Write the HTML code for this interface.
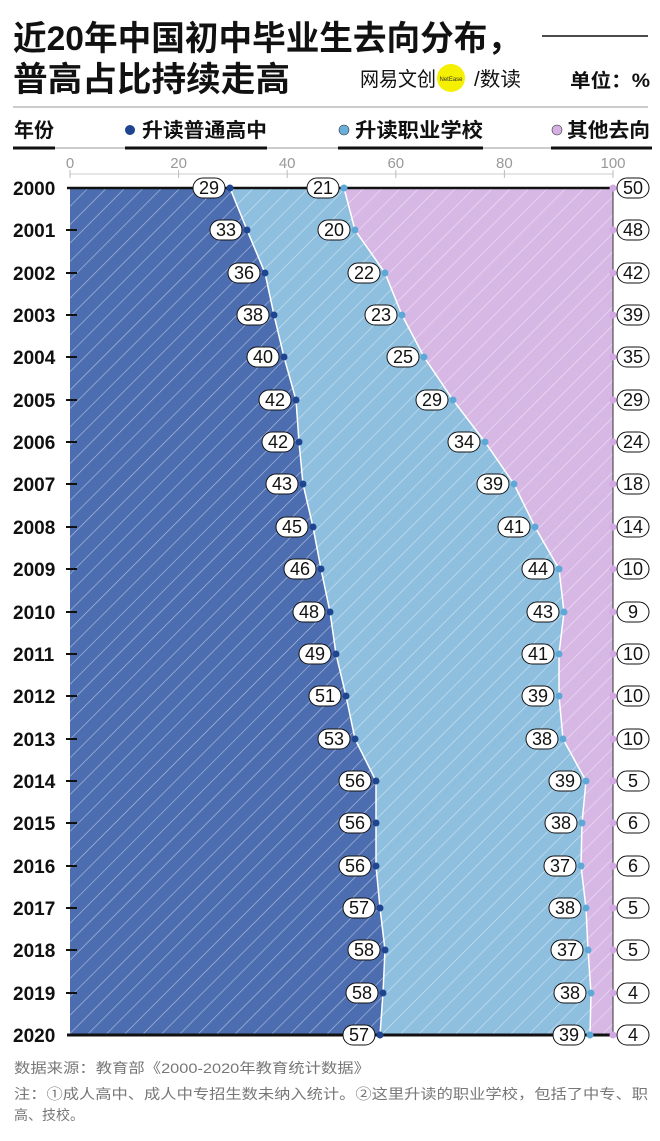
<!DOCTYPE html>
<html><head><meta charset="utf-8"><style>
html,body{margin:0;padding:0;background:#fff}
svg{display:block}
text{font-family:"Liberation Sans","Noto Sans CJK SC",sans-serif}
.p{fill:#fff;stroke:#111;stroke-width:1}
.t{font-size:18px;fill:#111;text-anchor:middle}
.y{font-size:19px;font-weight:bold;fill:#111}
.ax{font-size:15px;fill:#999;text-anchor:middle}
</style></head><body>
<svg width="660" height="1141" viewBox="0 0 660 1141" xmlns="http://www.w3.org/2000/svg">
<defs>
<pattern id="h" width="13" height="13" patternUnits="userSpaceOnUse" patternTransform="rotate(45)">
<line x1="0" y1="0" x2="0" y2="13" stroke="#fff" stroke-opacity="0.55" stroke-width="1.3"/>
</pattern>
</defs>
<text x="13" y="50" font-size="34" font-weight="bold" fill="#111" textLength="508" lengthAdjust="spacingAndGlyphs">近20年中国初中毕业生去向分布，</text>
<text x="13" y="91" font-size="34" font-weight="bold" fill="#111" textLength="277" lengthAdjust="spacingAndGlyphs">普高占比持续走高</text>
<line x1="542" y1="36" x2="648" y2="36" stroke="#111" stroke-width="1.5"/>
<text x="360" y="86" font-size="20" fill="#111" textLength="76" lengthAdjust="spacingAndGlyphs">网易文创</text>
<circle cx="451" cy="78" r="14" fill="#f5ef00"/>
<text x="451" y="81" font-size="6" fill="#333" text-anchor="middle">NetEase</text>
<text x="474" y="86" font-size="20" fill="#111" textLength="47" lengthAdjust="spacingAndGlyphs">/数读</text>
<text x="570" y="87" font-size="19" font-weight="bold" fill="#111" textLength="80" lengthAdjust="spacingAndGlyphs">单位：%</text>
<line x1="13" y1="107" x2="648" y2="107" stroke="#999" stroke-width="1"/>
<text x="14" y="137" font-size="20" font-weight="bold" fill="#111">年份</text>
<circle cx="130" cy="130" r="5" fill="#1f4590"/>
<text x="142" y="137" font-size="20" font-weight="bold" fill="#111" textLength="125" lengthAdjust="spacingAndGlyphs">升读普通高中</text>
<circle cx="344" cy="130" r="5" fill="#6aaedc" stroke="#333" stroke-width="0.6"/>
<text x="355" y="137" font-size="20" font-weight="bold" fill="#111" textLength="128" lengthAdjust="spacingAndGlyphs">升读职业学校</text>
<circle cx="557" cy="130" r="5" fill="#d6b0e4" stroke="#333" stroke-width="0.6"/>
<text x="567" y="137" font-size="20" font-weight="bold" fill="#111" textLength="83" lengthAdjust="spacingAndGlyphs">其他去向</text>
<line x1="13" y1="148" x2="650" y2="148" stroke="#999" stroke-width="1"/>
<g stroke="#111" stroke-width="3">
<line x1="13" y1="148" x2="55" y2="148"/><line x1="125" y1="148" x2="267" y2="148"/>
<line x1="338" y1="148" x2="483" y2="148"/><line x1="551" y1="148" x2="652" y2="148"/>
</g>
<g class="ax"><text x="70" y="168">0</text><text x="178.6" y="168">20</text><text x="287.2" y="168">40</text><text x="395.8" y="168">60</text><text x="504.4" y="168">80</text><text x="613" y="168">100</text></g>
<line x1="70" y1="174" x2="613" y2="174" stroke="#ccc" stroke-width="1"/>
<g stroke="#bbb" stroke-width="1"><line x1="70" y1="170" x2="70" y2="178"/><line x1="178.6" y1="170" x2="178.6" y2="178"/><line x1="287.2" y1="170" x2="287.2" y2="178"/><line x1="395.8" y1="170" x2="395.8" y2="178"/><line x1="504.4" y1="170" x2="504.4" y2="178"/><line x1="613" y1="170" x2="613" y2="178"/></g>

<polygon fill="#d7b8e5" points="344,188 355,230 385,273 402,315 424,357 453,400 485,442 514,484 535,527 559,569 564,612 559,654 559,696 563,739 586,781 582,823 581,866 586,908 588,950 591,993 590,1035 613,1035 613,188"/>
<polygon fill="#8ebfdf" points="230,188 247,230 265,273 274,315 284,357 296,400 299,442 303,484 313,527 321,569 330,612 336,654 346,696 355,739 376,781 376,823 376,866 380,908 385,950 383,993 380,1035 590,1035 591,993 588,950 586,908 581,866 582,823 586,781 563,739 559,696 559,654 564,612 559,569 535,527 514,484 485,442 453,400 424,357 402,315 385,273 355,230 344,188"/>
<polygon fill="#4c6db0" points="70,188 230,188 247,230 265,273 274,315 284,357 296,400 299,442 303,484 313,527 321,569 330,612 336,654 346,696 355,739 376,781 376,823 376,866 380,908 385,950 383,993 380,1035 70,1035"/>
<rect x="70" y="188" width="543" height="847" fill="url(#h)"/>
<polyline fill="none" stroke="#fff" stroke-width="1.5" points="230,188 247,230 265,273 274,315 284,357 296,400 299,442 303,484 313,527 321,569 330,612 336,654 346,696 355,739 376,781 376,823 376,866 380,908 385,950 383,993 380,1035"/>
<polyline fill="none" stroke="#fff" stroke-width="1.5" points="344,188 355,230 385,273 402,315 424,357 453,400 485,442 514,484 535,527 559,569 564,612 559,654 559,696 563,739 586,781 582,823 581,866 586,908 588,950 591,993 590,1035"/>
<line x1="613" y1="188" x2="613" y2="1035" stroke="#333" stroke-width="1"/>
<line x1="67" y1="188" x2="613" y2="188" stroke="#111" stroke-width="2.5"/>
<line x1="67" y1="1035" x2="613" y2="1035" stroke="#111" stroke-width="3"/>

<g class="y">
<text x="13" y="195">2000</text><text x="13" y="237">2001</text><text x="13" y="280">2002</text><text x="13" y="322">2003</text><text x="13" y="364">2004</text><text x="13" y="407">2005</text><text x="13" y="449">2006</text><text x="13" y="491">2007</text><text x="13" y="534">2008</text><text x="13" y="576">2009</text><text x="13" y="619">2010</text><text x="13" y="661">2011</text><text x="13" y="703">2012</text><text x="13" y="746">2013</text><text x="13" y="788">2014</text><text x="13" y="830">2015</text><text x="13" y="873">2016</text><text x="13" y="915">2017</text><text x="13" y="957">2018</text><text x="13" y="1000">2019</text><text x="13" y="1042">2020</text>
</g>
<g stroke="#111" stroke-width="2">
<line x1="66" y1="230" x2="77" y2="230"/><line x1="66" y1="273" x2="77" y2="273"/><line x1="66" y1="315" x2="77" y2="315"/><line x1="66" y1="357" x2="77" y2="357"/><line x1="66" y1="400" x2="77" y2="400"/><line x1="66" y1="442" x2="77" y2="442"/><line x1="66" y1="484" x2="77" y2="484"/><line x1="66" y1="527" x2="77" y2="527"/><line x1="66" y1="569" x2="77" y2="569"/><line x1="66" y1="612" x2="77" y2="612"/><line x1="66" y1="654" x2="77" y2="654"/><line x1="66" y1="696" x2="77" y2="696"/><line x1="66" y1="739" x2="77" y2="739"/><line x1="66" y1="781" x2="77" y2="781"/><line x1="66" y1="823" x2="77" y2="823"/><line x1="66" y1="866" x2="77" y2="866"/><line x1="66" y1="908" x2="77" y2="908"/><line x1="66" y1="950" x2="77" y2="950"/><line x1="66" y1="993" x2="77" y2="993"/>
</g>

<g>
<rect class="p" x="193" y="178" width="32" height="20" rx="10"/><text class="t" x="209" y="194">29</text>
<rect class="p" x="210" y="220" width="32" height="20" rx="10"/><text class="t" x="226" y="236">33</text>
<rect class="p" x="228" y="263" width="32" height="20" rx="10"/><text class="t" x="244" y="279">36</text>
<rect class="p" x="237" y="305" width="32" height="20" rx="10"/><text class="t" x="253" y="321">38</text>
<rect class="p" x="247" y="347" width="32" height="20" rx="10"/><text class="t" x="263" y="363">40</text>
<rect class="p" x="259" y="390" width="32" height="20" rx="10"/><text class="t" x="275" y="406">42</text>
<rect class="p" x="262" y="432" width="32" height="20" rx="10"/><text class="t" x="278" y="448">42</text>
<rect class="p" x="266" y="474" width="32" height="20" rx="10"/><text class="t" x="282" y="490">43</text>
<rect class="p" x="276" y="517" width="32" height="20" rx="10"/><text class="t" x="292" y="533">45</text>
<rect class="p" x="284" y="559" width="32" height="20" rx="10"/><text class="t" x="300" y="575">46</text>
<rect class="p" x="293" y="602" width="32" height="20" rx="10"/><text class="t" x="309" y="618">48</text>
<rect class="p" x="299" y="644" width="32" height="20" rx="10"/><text class="t" x="315" y="660">49</text>
<rect class="p" x="309" y="686" width="32" height="20" rx="10"/><text class="t" x="325" y="702">51</text>
<rect class="p" x="318" y="729" width="32" height="20" rx="10"/><text class="t" x="334" y="745">53</text>
<rect class="p" x="339" y="771" width="32" height="20" rx="10"/><text class="t" x="355" y="787">56</text>
<rect class="p" x="339" y="813" width="32" height="20" rx="10"/><text class="t" x="355" y="829">56</text>
<rect class="p" x="339" y="856" width="32" height="20" rx="10"/><text class="t" x="355" y="872">56</text>
<rect class="p" x="343" y="898" width="32" height="20" rx="10"/><text class="t" x="359" y="914">57</text>
<rect class="p" x="348" y="940" width="32" height="20" rx="10"/><text class="t" x="364" y="956">58</text>
<rect class="p" x="346" y="983" width="32" height="20" rx="10"/><text class="t" x="362" y="999">58</text>
<rect class="p" x="343" y="1025" width="32" height="20" rx="10"/><text class="t" x="359" y="1041">57</text>
</g>
<g>
<rect class="p" x="307" y="178" width="32" height="20" rx="10"/><text class="t" x="323" y="194">21</text>
<rect class="p" x="318" y="220" width="32" height="20" rx="10"/><text class="t" x="334" y="236">20</text>
<rect class="p" x="348" y="263" width="32" height="20" rx="10"/><text class="t" x="364" y="279">22</text>
<rect class="p" x="365" y="305" width="32" height="20" rx="10"/><text class="t" x="381" y="321">23</text>
<rect class="p" x="387" y="347" width="32" height="20" rx="10"/><text class="t" x="403" y="363">25</text>
<rect class="p" x="416" y="390" width="32" height="20" rx="10"/><text class="t" x="432" y="406">29</text>
<rect class="p" x="448" y="432" width="32" height="20" rx="10"/><text class="t" x="464" y="448">34</text>
<rect class="p" x="477" y="474" width="32" height="20" rx="10"/><text class="t" x="493" y="490">39</text>
<rect class="p" x="498" y="517" width="32" height="20" rx="10"/><text class="t" x="514" y="533">41</text>
<rect class="p" x="522" y="559" width="32" height="20" rx="10"/><text class="t" x="538" y="575">44</text>
<rect class="p" x="527" y="602" width="32" height="20" rx="10"/><text class="t" x="543" y="618">43</text>
<rect class="p" x="522" y="644" width="32" height="20" rx="10"/><text class="t" x="538" y="660">41</text>
<rect class="p" x="522" y="686" width="32" height="20" rx="10"/><text class="t" x="538" y="702">39</text>
<rect class="p" x="526" y="729" width="32" height="20" rx="10"/><text class="t" x="542" y="745">38</text>
<rect class="p" x="549" y="771" width="32" height="20" rx="10"/><text class="t" x="565" y="787">39</text>
<rect class="p" x="545" y="813" width="32" height="20" rx="10"/><text class="t" x="561" y="829">38</text>
<rect class="p" x="544" y="856" width="32" height="20" rx="10"/><text class="t" x="560" y="872">37</text>
<rect class="p" x="549" y="898" width="32" height="20" rx="10"/><text class="t" x="565" y="914">38</text>
<rect class="p" x="551" y="940" width="32" height="20" rx="10"/><text class="t" x="567" y="956">37</text>
<rect class="p" x="554" y="983" width="32" height="20" rx="10"/><text class="t" x="570" y="999">38</text>
<rect class="p" x="553" y="1025" width="32" height="20" rx="10"/><text class="t" x="569" y="1041">39</text>
</g>
<g>
<rect class="p" x="617" y="178" width="32" height="20" rx="10"/><text class="t" x="633" y="194">50</text>
<rect class="p" x="617" y="220" width="32" height="20" rx="10"/><text class="t" x="633" y="236">48</text>
<rect class="p" x="617" y="263" width="32" height="20" rx="10"/><text class="t" x="633" y="279">42</text>
<rect class="p" x="617" y="305" width="32" height="20" rx="10"/><text class="t" x="633" y="321">39</text>
<rect class="p" x="617" y="347" width="32" height="20" rx="10"/><text class="t" x="633" y="363">35</text>
<rect class="p" x="617" y="390" width="32" height="20" rx="10"/><text class="t" x="633" y="406">29</text>
<rect class="p" x="617" y="432" width="32" height="20" rx="10"/><text class="t" x="633" y="448">24</text>
<rect class="p" x="617" y="474" width="32" height="20" rx="10"/><text class="t" x="633" y="490">18</text>
<rect class="p" x="617" y="517" width="32" height="20" rx="10"/><text class="t" x="633" y="533">14</text>
<rect class="p" x="617" y="559" width="32" height="20" rx="10"/><text class="t" x="633" y="575">10</text>
<rect class="p" x="617" y="602" width="32" height="20" rx="10"/><text class="t" x="633" y="618">9</text>
<rect class="p" x="617" y="644" width="32" height="20" rx="10"/><text class="t" x="633" y="660">10</text>
<rect class="p" x="617" y="686" width="32" height="20" rx="10"/><text class="t" x="633" y="702">10</text>
<rect class="p" x="617" y="729" width="32" height="20" rx="10"/><text class="t" x="633" y="745">10</text>
<rect class="p" x="617" y="771" width="32" height="20" rx="10"/><text class="t" x="633" y="787">5</text>
<rect class="p" x="617" y="813" width="32" height="20" rx="10"/><text class="t" x="633" y="829">6</text>
<rect class="p" x="617" y="856" width="32" height="20" rx="10"/><text class="t" x="633" y="872">6</text>
<rect class="p" x="617" y="898" width="32" height="20" rx="10"/><text class="t" x="633" y="914">5</text>
<rect class="p" x="617" y="940" width="32" height="20" rx="10"/><text class="t" x="633" y="956">5</text>
<rect class="p" x="617" y="983" width="32" height="20" rx="10"/><text class="t" x="633" y="999">4</text>
<rect class="p" x="617" y="1025" width="32" height="20" rx="10"/><text class="t" x="633" y="1041">4</text>
</g>
<g fill="#1f4590">
<circle cx="230" cy="188" r="3.5"/><circle cx="247" cy="230" r="3.5"/><circle cx="265" cy="273" r="3.5"/><circle cx="274" cy="315" r="3.5"/><circle cx="284" cy="357" r="3.5"/><circle cx="296" cy="400" r="3.5"/><circle cx="299" cy="442" r="3.5"/><circle cx="303" cy="484" r="3.5"/><circle cx="313" cy="527" r="3.5"/><circle cx="321" cy="569" r="3.5"/><circle cx="330" cy="612" r="3.5"/><circle cx="336" cy="654" r="3.5"/><circle cx="346" cy="696" r="3.5"/><circle cx="355" cy="739" r="3.5"/><circle cx="376" cy="781" r="3.5"/><circle cx="376" cy="823" r="3.5"/><circle cx="376" cy="866" r="3.5"/><circle cx="380" cy="908" r="3.5"/><circle cx="385" cy="950" r="3.5"/><circle cx="383" cy="993" r="3.5"/><circle cx="380" cy="1035" r="3.5"/>
</g>
<g fill="#5ea8d8">
<circle cx="344" cy="188" r="3.5"/><circle cx="355" cy="230" r="3.5"/><circle cx="385" cy="273" r="3.5"/><circle cx="402" cy="315" r="3.5"/><circle cx="424" cy="357" r="3.5"/><circle cx="453" cy="400" r="3.5"/><circle cx="485" cy="442" r="3.5"/><circle cx="514" cy="484" r="3.5"/><circle cx="535" cy="527" r="3.5"/><circle cx="559" cy="569" r="3.5"/><circle cx="564" cy="612" r="3.5"/><circle cx="559" cy="654" r="3.5"/><circle cx="559" cy="696" r="3.5"/><circle cx="563" cy="739" r="3.5"/><circle cx="586" cy="781" r="3.5"/><circle cx="582" cy="823" r="3.5"/><circle cx="581" cy="866" r="3.5"/><circle cx="586" cy="908" r="3.5"/><circle cx="588" cy="950" r="3.5"/><circle cx="591" cy="993" r="3.5"/><circle cx="590" cy="1035" r="3.5"/>
</g>
<g fill="#d3a9e3">
<circle cx="613" cy="188" r="3.5"/><circle cx="613" cy="230" r="3.5"/><circle cx="613" cy="273" r="3.5"/><circle cx="613" cy="315" r="3.5"/><circle cx="613" cy="357" r="3.5"/><circle cx="613" cy="400" r="3.5"/><circle cx="613" cy="442" r="3.5"/><circle cx="613" cy="484" r="3.5"/><circle cx="613" cy="527" r="3.5"/><circle cx="613" cy="569" r="3.5"/><circle cx="613" cy="612" r="3.5"/><circle cx="613" cy="654" r="3.5"/><circle cx="613" cy="696" r="3.5"/><circle cx="613" cy="739" r="3.5"/><circle cx="613" cy="781" r="3.5"/><circle cx="613" cy="823" r="3.5"/><circle cx="613" cy="866" r="3.5"/><circle cx="613" cy="908" r="3.5"/><circle cx="613" cy="950" r="3.5"/><circle cx="613" cy="993" r="3.5"/><circle cx="613" cy="1035" r="3.5"/>
</g>

<text x="14" y="1073" font-size="14" fill="#777" textLength="356" lengthAdjust="spacingAndGlyphs">数据来源：教育部《2000-2020年教育统计数据》</text>
<text x="14" y="1099" font-size="14" fill="#777" textLength="634" lengthAdjust="spacingAndGlyphs">注：①成人高中、成人中专招生数未纳入统计。②这里升读的职业学校，包括了中专、职</text>
<text x="14" y="1120" font-size="14" fill="#777">高、技校。</text>
</svg>
</body></html>
